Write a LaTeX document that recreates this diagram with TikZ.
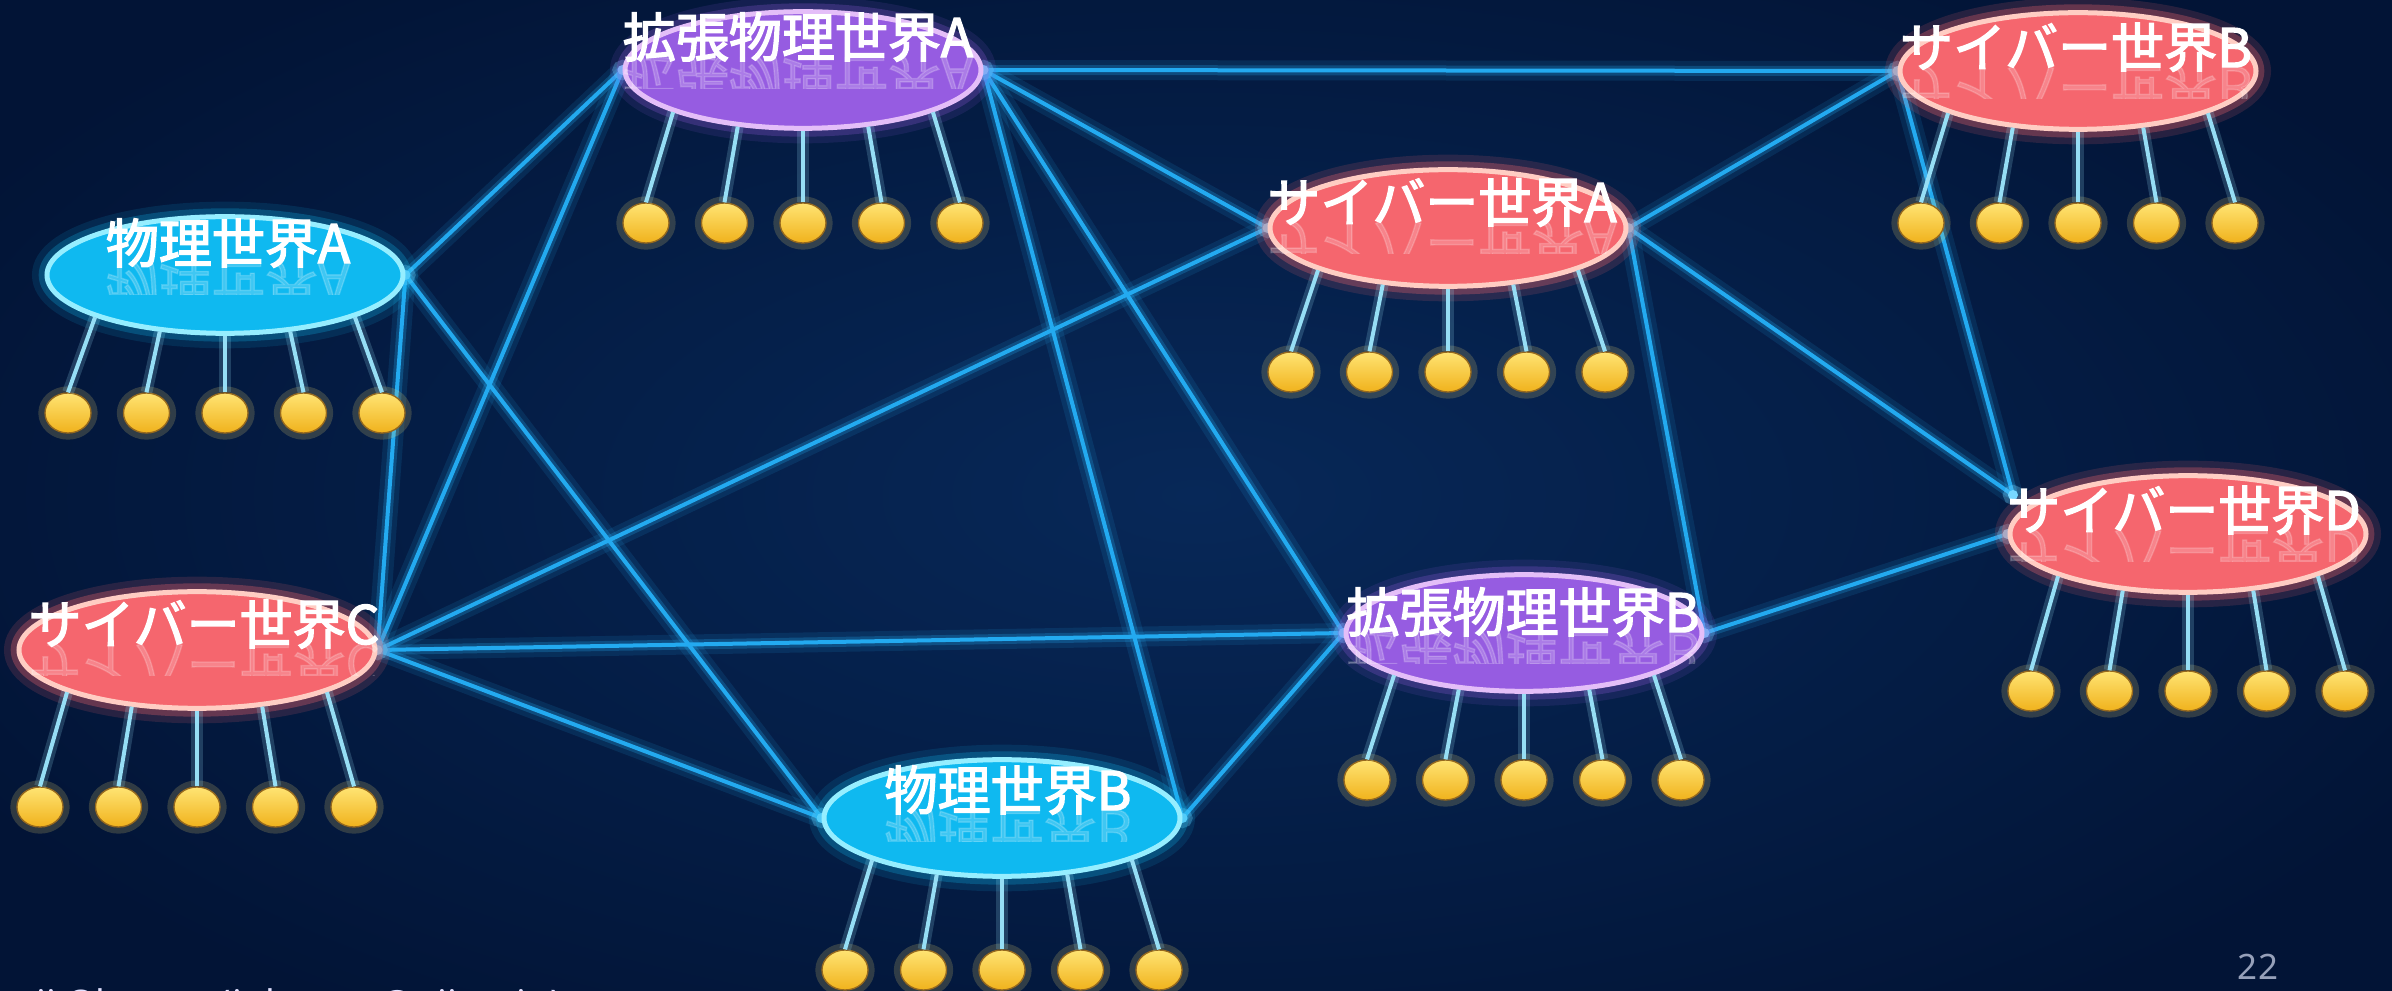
\documentclass[tikz,border=0pt]{standalone}
\usepackage{fontspec}
\setmainfont{Noto Sans}
\newfontfamily\jp[FakeBold=2.6]{Noto Sans CJK JP}
\usetikzlibrary{shapes.geometric}
\pgfdeclarelayer{bgl}
\pgfdeclarelayer{net}
\pgfsetlayers{bgl,net,main}
\definecolor{bgin}{RGB}{7,40,88}
\definecolor{bgout}{RGB}{2,20,54}
\definecolor{netc}{RGB}{35,170,240}
\definecolor{netl}{RGB}{120,215,255}
\definecolor{cyanf}{RGB}{15,185,240}
\definecolor{cyanb}{RGB}{150,238,255}
\definecolor{purf}{RGB}{150,92,225}
\definecolor{purb}{RGB}{228,190,248}
\definecolor{redf}{RGB}{245,102,110}
\definecolor{redb}{RGB}{255,205,195}
\definecolor{stickc}{RGB}{150,222,245}
\definecolor{ballhi}{RGB}{255,228,115}
\definecolor{balllo}{RGB}{240,178,28}
\definecolor{ballrim}{RGB}{150,105,30}
\definecolor{pagec}{RGB}{150,160,185}
\tikzset{
  world/.style={ellipse, minimum width=106.8pt, minimum height=35pt, inner sep=0pt, line width=1.5pt},
  wcyan/.style={world, fill=cyanf, draw=cyanb,
     preaction={draw=cyanf, line width=9pt, opacity=0.12},
     preaction={draw=cyanf, line width=5pt, opacity=0.25}},
  wpur/.style={world, fill=purf, draw=purb,
     preaction={draw=purf, line width=9pt, opacity=0.12},
     preaction={draw=purf, line width=5pt, opacity=0.25}},
  wred/.style={world, fill=redf, draw=redb,
     preaction={draw=redf, line width=9pt, opacity=0.15},
     preaction={draw=redf, line width=5pt, opacity=0.3}},
  ball/.style={ellipse, minimum width=13.8pt, minimum height=12pt, inner sep=0pt,
     top color=ballhi, bottom color=balllo, draw=ballrim, line width=0.4pt,
     preaction={draw=ballhi, line width=4pt, opacity=0.18}},
  stick/.style={draw=stickc, line width=1.2pt,
     preaction={draw=stickc, line width=3.5pt, opacity=0.2}},
  net/.style={draw=netc, line width=1.2pt,
     preaction={draw=netc, line width=6pt, opacity=0.12},
     preaction={draw=netc, line width=3pt, opacity=0.25}},
  port/.style={circle, fill=netl, inner sep=0pt, minimum size=3pt,
     preaction={draw=netl, line width=3pt, opacity=0.3}},
  lbl/.style={text=white, font=\jp\fontsize{15.9}{16}\selectfont, inner sep=0pt},
  rlbl/.style={lbl, opacity=0.2}
}
\newcommand\mkworld[8]{%
  \node[#2] (#1) at (#3,#4) {};
  \foreach \i/\a in {1/198,2/221,3/270,4/319,5/342} {
    \node[ball] (#1-b\i) at ({#3+(\i-3)*78.5},#5) {};
    \draw[stick] (#1.\a) -- (#1-b\i.north);
  }
  \node[lbl, anchor=base] (#1-t) at (#6,#7) {#8};
  \begin{scope}
    \clip (#6-185,#7+1) rectangle (#6+185,#7+32);
    \begin{scope}[shift={(#6,#7)}]
      \node[rlbl, anchor=base, yscale=-1, transform shape] at (0,0) {#8};
    \end{scope}
  \end{scope}
}
\begin{document}
\begin{tikzpicture}[x=0.3pt, y=-0.3pt]
\useasboundingbox (0,0) rectangle (2392,991);
\begin{pgfonlayer}{bgl}
  \shade[inner color=bgin, outer color=bgout] (-200,-150) rectangle (2592,1141);
\end{pgfonlayer}

% worlds
\mkworld{pA}{wpur}{803}{70}{223}{798}{57}{拡張物理世界A}
\mkworld{phA}{wcyan}{225}{275}{413}{228}{263}{物理世界A}
\mkworld{cA}{wred}{1448}{228}{372}{1442}{222}{サイバー世界A}
\mkworld{pB}{wpur}{1524}{633}{780}{1523}{632}{拡張物理世界B}
\mkworld{cB}{wred}{2078}{71}{223}{2076}{67}{サイバー世界B}
\mkworld{cD}{wred}{2188}{534}{691}{2184}{530}{サイバー世界D}
\mkworld{cC}{wred}{197}{650}{807}{204}{644}{サイバー世界C}
\mkworld{phB}{wcyan}{1002}{818}{970}{1008}{810}{物理世界B}

\coordinate (dport) at (2013,495);

\begin{pgfonlayer}{net}
  \draw[net] (phA.east) -- (pA.west);
  \draw[net] (phA.east) -- (cC.east);
  \draw[net] (phA.east) -- (phB.west);
  \draw[net] (cC.east) -- (pA.west);
  \draw[net] (cC.east) -- (cA.west);
  \draw[net] (cC.east) -- (pB.west);
  \draw[net] (cC.east) -- (phB.west);
  \draw[net] (pA.east) -- (cB.west);
  \draw[net] (pA.east) -- (cA.west);
  \draw[net] (pA.east) -- (pB.west);
  \draw[net] (pA.east) -- (phB.east);
  \draw[net] (phB.east) -- (pB.west);
  \draw[net] (cA.east) -- (cB.west);
  \draw[net] (cA.east) -- (dport);
  \draw[net] (cA.east) -- (pB.east);
  \draw[net] (pB.east) -- (cD.west);
  \draw[net] (cB.west) -- (dport);
  \foreach \p in {pA.east,pA.west,phA.east,cC.east,cA.west,cA.east,pB.west,pB.east,phB.east,phB.west,cB.west,cD.west,dport}
    \node[port] at (\p) {};
\end{pgfonlayer}

% page number and footer
\node[text=pagec, font=\fontsize{10.5}{12}\selectfont, inner sep=0pt] (pg) at (2258,967) {22};
\begin{scope}
  \clip (0,0) rectangle (2392,991);
  \node[text=white!88!blue, font=\fontsize{11.4}{13}\selectfont, inner sep=0pt, anchor=base west] (foot) at (36,1017) {ji Ohsawa (johsawa@nii.ac.jp)};
\end{scope}
\end{tikzpicture}
\end{document}
